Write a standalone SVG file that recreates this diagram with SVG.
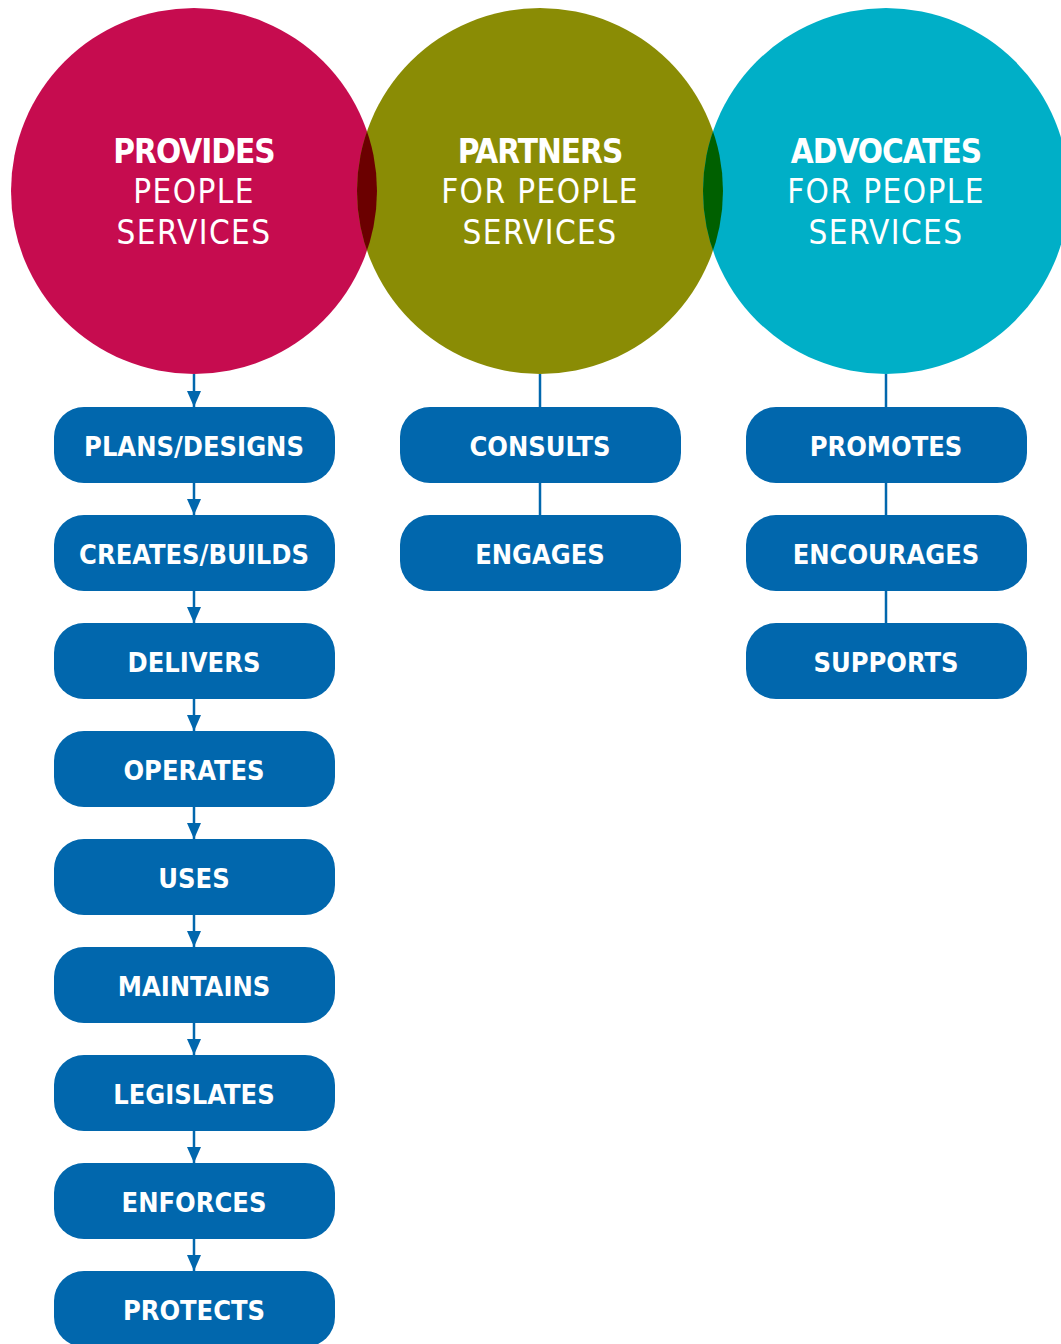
<svg xmlns="http://www.w3.org/2000/svg" width="1061" height="1344" viewBox="0 0 1061 1344">
<defs>
<style>
.box{fill:#0167ad}
.bt{font-family:"DejaVu Sans Condensed","DejaVu Sans",sans-serif;font-weight:bold;font-size:27px;fill:#fff;text-anchor:middle}
.ct{font-family:"DejaVu Sans Condensed","DejaVu Sans",sans-serif;font-size:33px;fill:#fff;text-anchor:middle;letter-spacing:1.4px}
.ctb{font-weight:bold;letter-spacing:-1px}
.ln{stroke:#0167ad;stroke-width:2.5;fill:none}
</style>
<marker id="ah" viewBox="0 0 16 14" refX="16" refY="7" markerWidth="16" markerHeight="14" markerUnits="userSpaceOnUse" orient="auto">
<path d="M0,0 L16,7 L0,14 Z" fill="#0167ad"/>
</marker>
<clipPath id="c2"><circle cx="540" cy="191" r="183"/></clipPath>
<clipPath id="c3"><circle cx="886" cy="191" r="183"/></clipPath>
</defs>
<g id="connectors">
<line class="ln" x1="194" y1="374" x2="194" y2="407" marker-end="url(#ah)"/>
<line class="ln" x1="194" y1="483" x2="194" y2="515" marker-end="url(#ah)"/>
<line class="ln" x1="194" y1="591" x2="194" y2="623" marker-end="url(#ah)"/>
<line class="ln" x1="194" y1="699" x2="194" y2="731" marker-end="url(#ah)"/>
<line class="ln" x1="194" y1="807" x2="194" y2="839" marker-end="url(#ah)"/>
<line class="ln" x1="194" y1="915" x2="194" y2="947" marker-end="url(#ah)"/>
<line class="ln" x1="194" y1="1023" x2="194" y2="1055" marker-end="url(#ah)"/>
<line class="ln" x1="194" y1="1131" x2="194" y2="1163" marker-end="url(#ah)"/>
<line class="ln" x1="194" y1="1239" x2="194" y2="1271" marker-end="url(#ah)"/>
<line class="ln" x1="540" y1="374" x2="540" y2="408"/>
<line class="ln" x1="540" y1="483" x2="540" y2="516"/>
<line class="ln" x1="886" y1="374" x2="886" y2="408"/>
<line class="ln" x1="886" y1="483" x2="886" y2="516"/>
<line class="ln" x1="886" y1="591" x2="886" y2="624"/>
</g>
<g id="circle-provides">
<circle cx="194" cy="191" r="183" fill="#c60c4f"/>
</g>
<g id="circle-partners">
<circle cx="540" cy="191" r="183" fill="#8a8c05"/>
<circle cx="194" cy="191" r="183" fill="#6b0000" clip-path="url(#c2)"/>
</g>
<g id="circle-advocates">
<circle cx="886" cy="191" r="183" fill="#00afc7"/>
<circle cx="540" cy="191" r="183" fill="#006000" clip-path="url(#c3)"/>
</g>
<g id="circle-text">
<text class="ct ctb" x="194" y="163">PROVIDES</text>
<text class="ct" x="194" y="203">PEOPLE</text>
<text class="ct" x="194" y="244">SERVICES</text>
<text class="ct ctb" x="540" y="163">PARTNERS</text>
<text class="ct" x="540" y="203">FOR PEOPLE</text>
<text class="ct" x="540" y="244">SERVICES</text>
<text class="ct ctb" x="886" y="163">ADVOCATES</text>
<text class="ct" x="886" y="203">FOR PEOPLE</text>
<text class="ct" x="886" y="244">SERVICES</text>
</g>
<g id="n-plans"><rect class="box" x="54" y="407" width="281" height="76" rx="30"/><text class="bt" x="194" y="456">PLANS/DESIGNS</text></g>
<g id="n-creates"><rect class="box" x="54" y="515" width="281" height="76" rx="30"/><text class="bt" x="194" y="564">CREATES/BUILDS</text></g>
<g id="n-delivers"><rect class="box" x="54" y="623" width="281" height="76" rx="30"/><text class="bt" x="194" y="672">DELIVERS</text></g>
<g id="n-operates"><rect class="box" x="54" y="731" width="281" height="76" rx="30"/><text class="bt" x="194" y="780">OPERATES</text></g>
<g id="n-uses"><rect class="box" x="54" y="839" width="281" height="76" rx="30"/><text class="bt" x="194" y="888">USES</text></g>
<g id="n-maintains"><rect class="box" x="54" y="947" width="281" height="76" rx="30"/><text class="bt" x="194" y="996">MAINTAINS</text></g>
<g id="n-legislates"><rect class="box" x="54" y="1055" width="281" height="76" rx="30"/><text class="bt" x="194" y="1104">LEGISLATES</text></g>
<g id="n-enforces"><rect class="box" x="54" y="1163" width="281" height="76" rx="30"/><text class="bt" x="194" y="1212">ENFORCES</text></g>
<g id="n-protects"><rect class="box" x="54" y="1271" width="281" height="76" rx="30"/><text class="bt" x="194" y="1320">PROTECTS</text></g>
<g id="n-consults"><rect class="box" x="400" y="407" width="281" height="76" rx="30"/><text class="bt" x="540" y="456">CONSULTS</text></g>
<g id="n-engages"><rect class="box" x="400" y="515" width="281" height="76" rx="30"/><text class="bt" x="540" y="564">ENGAGES</text></g>
<g id="n-promotes"><rect class="box" x="746" y="407" width="281" height="76" rx="30"/><text class="bt" x="886" y="456">PROMOTES</text></g>
<g id="n-encourages"><rect class="box" x="746" y="515" width="281" height="76" rx="30"/><text class="bt" x="886" y="564">ENCOURAGES</text></g>
<g id="n-supports"><rect class="box" x="746" y="623" width="281" height="76" rx="30"/><text class="bt" x="886" y="672">SUPPORTS</text></g>
</svg>
